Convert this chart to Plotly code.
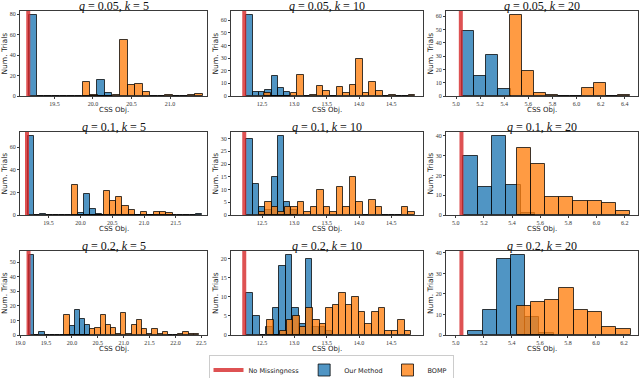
import plotly.graph_objects as go

# ---------------- data ----------------
q_values = [0.05, 0.1, 0.2]
k_values = [5, 10, 20]
# objective value without missingness (per k)
no_missing_obj = [19.16, 12.225, 5.04]

# "Our Method" histograms: first bin edge, bin width, counts (panel order row-major)
ours_start = [19.174, 12.256, 5.050, 19.170, 12.258, 5.054, 19.177, 12.258, 5.090]
ours_width = [0.098, 0.0977, 0.1006, 0.098, 0.0972, 0.1016, 0.0974, 0.1018, 0.1014]
ours_counts = [
    [79, 0, 0, 0, 0, 0, 0, 0, 0, 16, 3],
    [64, 3, 3, 5, 16, 6, 3],
    [49, 15, 31, 5],
    [70, 0, 1, 0, 0, 0, 0, 0, 2, 19, 5, 1, 0, 0, 0, 0, 0, 0, 0, 0, 0, 0, 0, 0, 0, 0, 0, 1],
    [30, 12, 3, 2, 15, 31, 5, 2],
    [30, 14, 40, 15, 1],
    [55, 0, 2, 0, 0, 0, 0, 0, 6, 17, 11, 7],
    [11, 5, 0, 2, 7, 18, 21, 7, 3, 20, 2, 2, 1],
    [2, 12, 37, 39, 9, 1],
]

# "BOMP" histograms
bomp_start = [19.870, 12.536, 5.449, 19.870, 12.448, 5.432, 19.852, 12.577, 5.435]
bomp_width = [0.097, 0.1016, 0.0997, 0.0986, 0.1005, 0.1009, 0.1001, 0.1015, 0.1015]
bomp_counts = [
    [14, 1, 0, 0, 1, 55, 11, 12, 4, 0, 0, 1, 0, 0, 1, 2],
    [2, 0, 0, 0, 2, 17, 0, 1, 8, 4, 0, 7, 2, 9, 29, 2, 11, 4, 0, 1, 0, 0, 1],
    [61, 19, 2, 1, 0, 0, 6, 10, 0, 1],
    [27, 0, 0, 0, 0, 21, 12, 16, 8, 4, 0, 3, 0, 3, 3, 2],
    [1, 5, 3, 1, 3, 3, 5, 1, 3, 10, 3, 1, 11, 3, 15, 5, 0, 6, 3, 0, 0, 0, 3, 1],
    [34, 26, 9, 9, 7, 7, 6, 2],
    [14, 0, 0, 0, 0, 4, 5, 14, 7, 5, 1, 15, 1, 7, 10, 4, 1, 4, 1, 2, 0, 0, 1, 2, 1, 1],
    [4, 0, 1, 4, 5, 2, 7, 4, 3, 7, 8, 11, 8, 10, 6, 3, 6, 7, 1, 1, 4, 1],
    [14, 16, 17, 23, 12, 11, 4, 3],
]

# axis x-limits per panel
x_ranges = [
    [19.053, 21.48], [12.02, 14.99], [4.917, 6.51],
    [19.05, 21.99], [12.02, 14.99], [4.93, 6.295],
    [18.995, 22.61], [12.02, 14.99], [4.93, 6.30],
]
x_dticks = [0.5, 0.5, 0.2, 0.5, 0.5, 0.2, 0.5, 0.5, 0.2]
y_dticks = [20, 10, 10, 20, 5, 10, 10, 5, 10]

# ---------------- layout geometry (pixels) ----------------
W, H = 640, 378
col_px = [(20, 207), (231, 423), (446, 638)]
row_px = [(11, 96), (132, 215), (251, 335)]

RED = "rgba(214,39,40,0.8)"
BLUE = "rgba(31,119,180,0.78)"
ORANGE = "rgba(255,127,14,0.78)"
EDGE = "rgba(0,0,0,0.75)"

fig = go.Figure()
layout = dict(
    width=W, height=H, margin=dict(l=0, r=0, t=0, b=0, autoexpand=False),
    paper_bgcolor="white", plot_bgcolor="white",
    barmode="overlay", bargap=0,
    showlegend=True,
)
annotations = []

for p in range(9):
    r, c = divmod(p, 3)
    ax = "" if p == 0 else str(p + 1)
    xa, ya = "x" + ax, "y" + ax
    x0, x1 = col_px[c]
    y0, y1 = row_px[r]
    ymax = 1.05 * max(max(ours_counts[p]), max(bomp_counts[p]))

    layout["xaxis" + ax] = dict(
        domain=[x0 / W, x1 / W], anchor=ya, range=x_ranges[p], automargin=False,
        showgrid=False, zeroline=False, showline=True, mirror=True,
        linecolor="#3a3a3a", linewidth=1, ticks="outside", ticklen=2,
        tickcolor="#3a3a3a", dtick=x_dticks[p], tick0=0, tickformat=".1f",
        tickfont=dict(family="Liberation Serif", size=6, color="#333"),
    )
    layout["yaxis" + ax] = dict(
        domain=[1 - y1 / H, 1 - y0 / H], anchor=xa, range=[0, ymax], automargin=False,
        showgrid=False, zeroline=False, showline=True, mirror=True,
        linecolor="#3a3a3a", linewidth=1, ticks="outside", ticklen=2,
        tickcolor="#3a3a3a", dtick=y_dticks[p], tick0=0,
        tickfont=dict(family="Liberation Serif", size=6, color="#333"),
    )

    # red reference line
    v = no_missing_obj[c]
    fig.add_trace(go.Scatter(
        x=[v, v], y=[0, ymax], mode="lines", line=dict(color=RED, width=4),
        name="No Missingness", legendgroup="nm", showlegend=(p == 0),
        xaxis=xa, yaxis=ya, hoverinfo="skip",
    ))
    # Our Method
    w = ours_width[p]
    fig.add_trace(go.Bar(
        x=[ours_start[p] + w * (i + 0.5) for i in range(len(ours_counts[p]))],
        y=ours_counts[p], width=w,
        marker=dict(color=BLUE, line=dict(color=EDGE, width=1)),
        name="Our Method", legendgroup="ours", showlegend=(p == 0),
        xaxis=xa, yaxis=ya,
    ))
    # BOMP
    w = bomp_width[p]
    fig.add_trace(go.Bar(
        x=[bomp_start[p] + w * (i + 0.5) for i in range(len(bomp_counts[p]))],
        y=bomp_counts[p], width=w,
        marker=dict(color=ORANGE, line=dict(color=EDGE, width=1)),
        name="BOMP", legendgroup="bomp", showlegend=(p == 0),
        xaxis=xa, yaxis=ya,
    ))

    # panel title
    annotations.append(dict(
        text=f"<i>q</i> = {q_values[r]}, <i>k</i> = {k_values[c]}",
        xref="paper", yref="paper", x=(x0 + x1) / 2 / W, y=1 - (y0 - 5) / H,
        xanchor="center", yanchor="middle", showarrow=False,
        font=dict(family="Liberation Serif", size=12, color="#111"),
    ))
    # x-axis title
    annotations.append(dict(
        text="CSS Obj.", xref="paper", yref="paper",
        x=(x0 + x1) / 2 / W, y=1 - (y1 + 14) / H,
        xanchor="center", yanchor="middle", showarrow=False,
        font=dict(family="DejaVu Sans", size=7, color="#222"),
    ))
    # y-axis title
    annotations.append(dict(
        text="Num. Trials", xref="paper", yref="paper", textangle=-90,
        x=(x0 - 16) / W, y=1 - (y0 + y1) / 2 / H,
        xanchor="center", yanchor="middle", showarrow=False,
        font=dict(family="DejaVu Sans", size=7.5, color="#222"),
    ))

layout["annotations"] = annotations
layout["legend"] = dict(
    orientation="h", x=331 / W, xanchor="center", y=1 - 370 / H, yanchor="middle",
    bgcolor="white", bordercolor="#cccccc", borderwidth=1,
    font=dict(family="DejaVu Sans", size=6.5, color="#222"),
    itemwidth=30, tracegroupgap=0,
)
fig.update_layout(**layout)
fig.write_html(
    "out.html",
    config={"displayModeBar": False},
    post_script="document.body.style.margin='0px';document.body.style.overflow='hidden';",
)
